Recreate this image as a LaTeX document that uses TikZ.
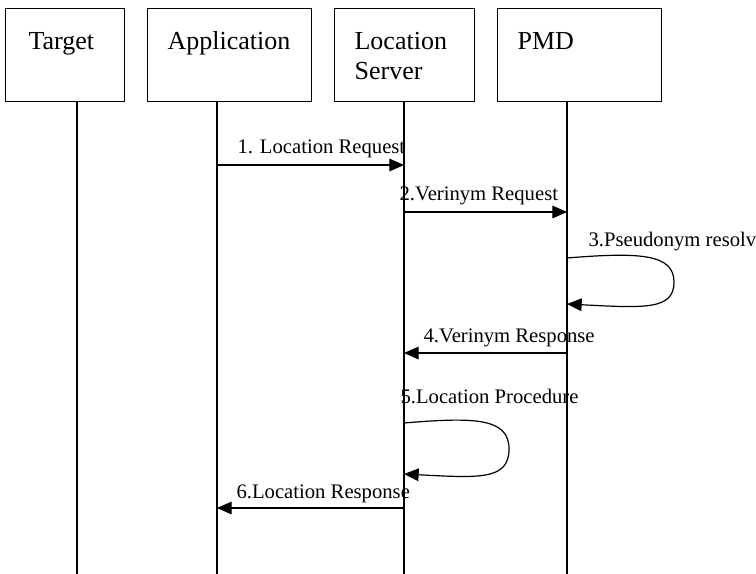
\documentclass[tikz,border=0pt]{standalone}
\usepackage{fontspec}
\setmainfont{Liberation Serif}
\usetikzlibrary{arrows.meta}

\begin{document}
\begin{tikzpicture}[x=0.75pt, y=-0.75pt, line width=0.9pt,
  every node/.style={font=\rmfamily\fontsize{15.5}{18}\selectfont},
  actor/.style={draw, rectangle, anchor=north west, inner sep=0pt, minimum height=69.75pt},
  actortext/.style={anchor=base west, align=left, inner sep=0pt, font=\rmfamily\fontsize{19.5}{22.5}\selectfont},
  msg/.style={-{Triangle[length=11pt,width=9.5pt]}},
  msgtext/.style={anchor=base west, inner sep=0pt}]
  \useasboundingbox (0,0) rectangle (756,574);

  % participants
  \node[actor, minimum width=89.25pt] (target) at (5,8) {};
  \node[actor, minimum width=123pt] (app) at (147,8) {};
  \node[actor, minimum width=105pt] (ls) at (334,8) {};
  \node[actor, minimum width=123pt] (pmd) at (497,8) {};
  \node[actortext] (targettext) at (28,50) {Target};
  \node[actortext] (apptext) at (167,50) {Application};
  \node[actortext] (lstext) at (354,80) {Location\\Server};
  \node[actortext] (pmdtext) at (517,50) {PMD};

  % lifelines
  \coordinate (targetend) at (77,574);
  \coordinate (append) at (217,574);
  \coordinate (lsend) at (404,574);
  \coordinate (pmdend) at (567,574);
  \draw (target.south -| targetend) -- (targetend);
  \draw (app.south -| append) -- (append);
  \draw (ls.south -| lsend) -- (lsend);
  \draw (pmd.south -| pmdend) -- (pmdend);

  % message heights
  \coordinate (m1) at (0,165);
  \coordinate (m2) at (0,212);
  \coordinate (m3a) at (0,258);
  \coordinate (m3b) at (0,304);
  \coordinate (m4) at (0,353);
  \coordinate (m5a) at (0,423);
  \coordinate (m5b) at (0,474);
  \coordinate (m6) at (0,508);

  % messages
  \draw[msg] (append |- m1) -- (lsend |- m1);
  \node[msgtext] (l1) at (237,153) {1. Location Request};
  \draw[msg] (lsend |- m2) -- (pmdend |- m2);
  \node[msgtext] (l2) at (399,200) {2.Verinym Request};
  \draw[msg] (pmdend |- m3a) .. controls (640,252) and (674,254) .. (674,282)
    .. controls (674,310) and (645,308) .. (pmdend |- m3b);
  \node[msgtext] (l3) at (588,246) {3.Pseudonym resolv};
  \draw[msg] (pmdend |- m4) -- (lsend |- m4);
  \node[msgtext] (l4) at (423,342) {4.Verinym Response};
  \draw[msg] (lsend |- m5a) .. controls (475,417) and (509,418) .. (509,449)
    .. controls (509,480) and (480,478) .. (lsend |- m5b);
  \node[msgtext] (l5) at (400,403) {5.Location Procedure};
  \draw[msg] (lsend |- m6) -- (append |- m6);
  \node[msgtext] (l6) at (236,498) {6.Location Response};
\end{tikzpicture}
\end{document}
